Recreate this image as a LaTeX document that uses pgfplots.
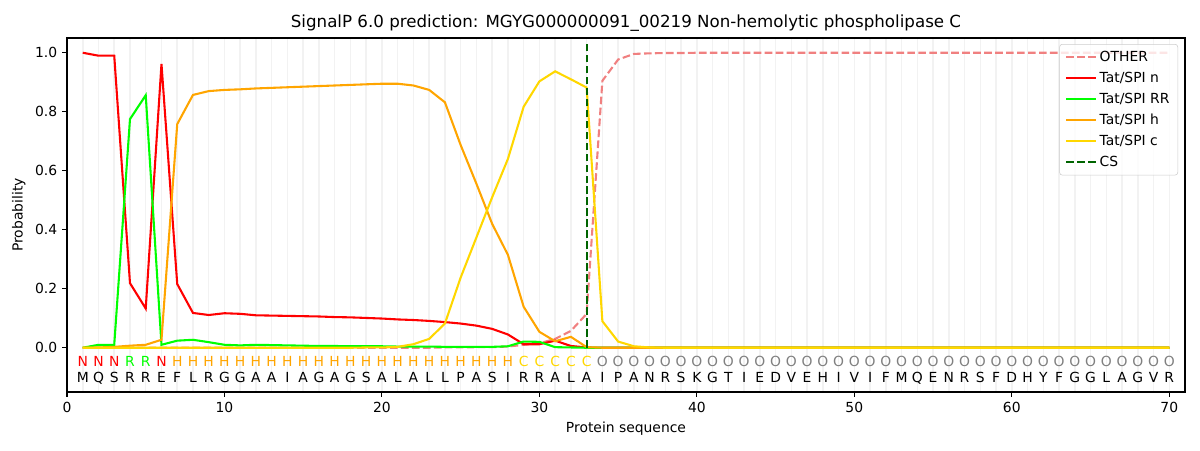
\documentclass[border=0pt]{standalone}
\usepackage{pgfplots}
\pgfplotsset{compat=1.18}
\usepackage{pgfplotstable}
\usepackage{fontspec}
\setmainfont{DejaVu Sans}
\definecolor{cother}{HTML}{F08080}
\definecolor{cn}{HTML}{FF0000}
\definecolor{crr}{HTML}{00FF00}
\definecolor{ch}{HTML}{FFA500}
\definecolor{cc}{HTML}{FFD700}
\definecolor{ccs}{HTML}{006400}
\definecolor{cgrid}{HTML}{F2F2F2}
\pgfplotstableread{
x other n rr h c
1 0 1.000 0.000 0.000 0.000
2 0 0.990 0.010 0.001 0.000
3 0 0.990 0.010 0.003 0.000
4 0 0.219 0.775 0.007 0.000
5 0 0.133 0.856 0.010 0.000
6 0 0.962 0.010 0.027 0.000
7 0 0.216 0.024 0.758 0.000
8 0 0.118 0.027 0.857 0.000
9 0 0.111 0.019 0.870 0.000
10 0 0.117 0.010 0.874 0.000
11 0 0.115 0.008 0.876 0.000
12 0 0.110 0.010 0.879 0.000
13 0 0.109 0.009 0.881 0.000
14 0 0.108 0.008 0.883 0.000
15 0 0.107 0.007 0.885 0.000
16 0 0.106 0.006 0.887 0.000
17 0 0.104 0.006 0.889 0.000
18 0 0.103 0.005 0.891 0.000
19 0 0.101 0.005 0.893 0.001
20 0 0.099 0.005 0.895 0.001
21 0 0.096 0.004 0.895 0.003
22 0 0.094 0.004 0.889 0.012
23 0 0.091 0.004 0.874 0.030
24 0.001 0.087 0.003 0.832 0.082
25 0.001 0.082 0.003 0.687 0.238
26 0.002 0.075 0.003 0.556 0.374
27 0.002 0.064 0.003 0.420 0.510
28 0.004 0.045 0.005 0.315 0.640
29 0.010 0.012 0.021 0.139 0.817
30 0.015 0.012 0.020 0.054 0.903
31 0.030 0.024 0.002 0.022 0.937
32 0.057 0.006 0.001 0.037 0.910
33 0.115 0.001 0.000 0.002 0.882
34 0.905 0 0 0 0.090
35 0.977 0 0 0 0.021
36 0.996 0 0 0 0.005
37 0.998 0 0 0 0.001
38 0.999 0 0 0 0
39 0.999 0 0 0 0
40 1 0 0 0 0
41 1 0 0 0 0
42 1 0 0 0 0
43 1 0 0 0 0
44 1 0 0 0 0
45 1 0 0 0 0
46 1 0 0 0 0
47 1 0 0 0 0
48 1 0 0 0 0
49 1 0 0 0 0
50 1 0 0 0 0
51 1 0 0 0 0
52 1 0 0 0 0
53 1 0 0 0 0
54 1 0 0 0 0
55 1 0 0 0 0
56 1 0 0 0 0
57 1 0 0 0 0
58 1 0 0 0 0
59 1 0 0 0 0
60 1 0 0 0 0
61 1 0 0 0 0
62 1 0 0 0 0
63 1 0 0 0 0
64 1 0 0 0 0
65 1 0 0 0 0
66 1 0 0 0 0
67 1 0 0 0 0
68 1 0 0 0 0
69 1 0 0 0 0
70 1 0 0 0 0
}\probtab
\pgfplotstableread{
x y t
1 -0.1 M
2 -0.1 Q
3 -0.1 S
4 -0.1 R
5 -0.1 R
6 -0.1 E
7 -0.1 F
8 -0.1 L
9 -0.1 R
10 -0.1 G
11 -0.1 G
12 -0.1 A
13 -0.1 A
14 -0.1 I
15 -0.1 A
16 -0.1 G
17 -0.1 A
18 -0.1 G
19 -0.1 S
20 -0.1 A
21 -0.1 L
22 -0.1 A
23 -0.1 L
24 -0.1 L
25 -0.1 P
26 -0.1 A
27 -0.1 S
28 -0.1 I
29 -0.1 R
30 -0.1 R
31 -0.1 A
32 -0.1 L
33 -0.1 A
34 -0.1 I
35 -0.1 P
36 -0.1 A
37 -0.1 N
38 -0.1 R
39 -0.1 S
40 -0.1 K
41 -0.1 G
42 -0.1 T
43 -0.1 I
44 -0.1 E
45 -0.1 D
46 -0.1 V
47 -0.1 E
48 -0.1 H
49 -0.1 I
50 -0.1 V
51 -0.1 I
52 -0.1 F
53 -0.1 M
54 -0.1 Q
55 -0.1 E
56 -0.1 N
57 -0.1 R
58 -0.1 S
59 -0.1 F
60 -0.1 D
61 -0.1 H
62 -0.1 Y
63 -0.1 F
64 -0.1 G
65 -0.1 G
66 -0.1 L
67 -0.1 A
68 -0.1 G
69 -0.1 V
70 -0.1 R
}\seqtab
\pgfplotstableread{
x y t
1 -0.047 N
2 -0.047 N
3 -0.047 N
6 -0.047 N
}\labN
\pgfplotstableread{
x y t
4 -0.047 R
5 -0.047 R
}\labR
\pgfplotstableread{
x y t
7 -0.047 H
8 -0.047 H
9 -0.047 H
10 -0.047 H
11 -0.047 H
12 -0.047 H
13 -0.047 H
14 -0.047 H
15 -0.047 H
16 -0.047 H
17 -0.047 H
18 -0.047 H
19 -0.047 H
20 -0.047 H
21 -0.047 H
22 -0.047 H
23 -0.047 H
24 -0.047 H
25 -0.047 H
26 -0.047 H
27 -0.047 H
28 -0.047 H
}\labH
\pgfplotstableread{
x y t
29 -0.047 C
30 -0.047 C
31 -0.047 C
32 -0.047 C
33 -0.047 C
}\labC
\pgfplotstableread{
x y t
34 -0.047 O
35 -0.047 O
36 -0.047 O
37 -0.047 O
38 -0.047 O
39 -0.047 O
40 -0.047 O
41 -0.047 O
42 -0.047 O
43 -0.047 O
44 -0.047 O
45 -0.047 O
46 -0.047 O
47 -0.047 O
48 -0.047 O
49 -0.047 O
50 -0.047 O
51 -0.047 O
52 -0.047 O
53 -0.047 O
54 -0.047 O
55 -0.047 O
56 -0.047 O
57 -0.047 O
58 -0.047 O
59 -0.047 O
60 -0.047 O
61 -0.047 O
62 -0.047 O
63 -0.047 O
64 -0.047 O
65 -0.047 O
66 -0.047 O
67 -0.047 O
68 -0.047 O
69 -0.047 O
70 -0.047 O
}\labO
\begin{document}
\begin{tikzpicture}
\path[use as bounding box] (0,0) rectangle (864pt,324pt);
\begin{axis}[
  at={(48.24pt,41.76pt)}, anchor=south west,
  scale only axis, width=804.96pt, height=254.88pt,
  xmin=0, xmax=71, ymin=-0.15, ymax=1.05,
  xtick={0,10,...,70}, ytick={0,0.2,...,1.0},
  minor xtick={1,2,...,70},
  xminorgrids=true,
  minor grid style={cgrid, line width=1.1pt},
  minor tick length=0pt,
  major tick length=3.5pt,
  tick align=outside,
  tick pos=lower,
  tick style={black, line width=0.8pt},
  axis line style={line width=0.8pt},
  /pgf/number format/assume math mode=true,
  yticklabel style={/pgf/number format/.cd, fixed, fixed zerofill, precision=1},
  xticklabel style={/pgf/number format/.cd, fixed, precision=0},
  ticklabel style={font=\fontsize{10}{12}\selectfont},
  xlabel={Protein sequence}, ylabel={Probability},
  label style={font=\fontsize{10}{12}\selectfont},
  title={SignalP 6.0 prediction: MGYG000000091\_00219 Non-hemolytic phospholipase C},
  title style={font=\fontsize{12}{14}\selectfont, yshift=-5pt},
  legend cell align=left,
  legend style={at={(0.9938,0.983)}, anchor=north east, draw=black!20, rounded corners=2pt,
    fill=white, fill opacity=0.8, text opacity=1,
    font=\fontsize{10}{12}\selectfont, row sep=2.1pt,
    nodes={inner sep=2pt}, inner xsep=4pt, inner ysep=3pt},
  legend image code/.code={\draw[#1] (0cm,0cm) -- (0.75cm,0cm);},
  every axis plot/.append style={line width=1.5pt},
  letters/.style={draw=none, mark=none, forget plot, nodes near coords, point meta=explicit symbolic,
    nodes near coords align=center,
    every node near coord/.append style={anchor=center, text=#1, text height=7.3pt, text depth=0pt,
      font=\fontsize{10}{12}\selectfont}},
  clip=false,
]
\addplot[cother, dash pattern=on 5.5pt off 2.4pt] table[x=x,y=other]{\probtab};
\addlegendentry{OTHER}
\addplot[cn] table[x=x,y=n]{\probtab};
\addlegendentry{Tat/SPI n}
\addplot[crr] table[x=x,y=rr]{\probtab};
\addlegendentry{Tat/SPI RR}
\addplot[ch] table[x=x,y=h]{\probtab};
\addlegendentry{Tat/SPI h}
\addplot[cc] table[x=x,y=c]{\probtab};
\addlegendentry{Tat/SPI c}
\addplot[ccs, dash pattern=on 5.5pt off 2.4pt] coordinates {(33,0) (33,1.04)};
\addlegendentry{CS}
\addplot[letters=black] table[x=x,y=y,meta=t]{\seqtab};
\addplot[letters=cn] table[x=x,y=y,meta=t]{\labN};
\addplot[letters=crr] table[x=x,y=y,meta=t]{\labR};
\addplot[letters=ch] table[x=x,y=y,meta=t]{\labH};
\addplot[letters=cc] table[x=x,y=y,meta=t]{\labC};
\addplot[letters=gray] table[x=x,y=y,meta=t]{\labO};
\end{axis}
\end{tikzpicture}
\end{document}
